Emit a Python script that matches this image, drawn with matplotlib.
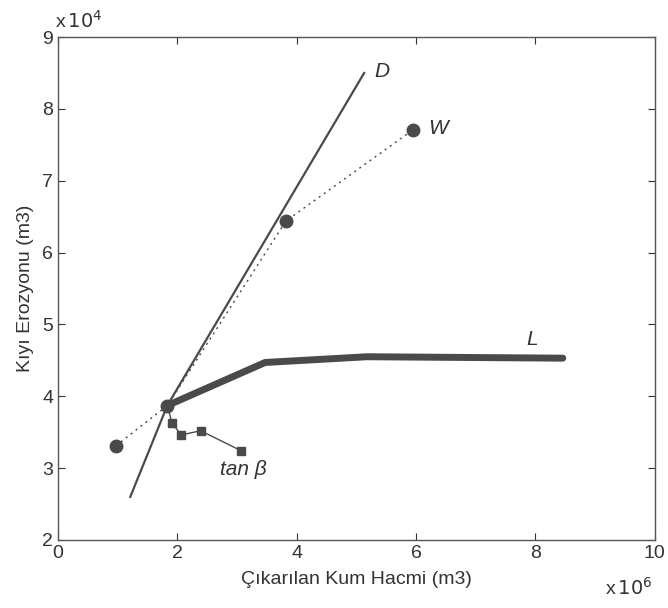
import matplotlib.pyplot as plt

plt.rcParams['font.family'] = ['Liberation Sans', 'DejaVu Sans']

# Veriler (x: 1e6 m3, y: 1e4 m3)
d_x = [1.21, 1.83, 5.13]
d_y = [2.60, 3.87, 8.50]

w_x = [0.97, 1.83, 3.82, 5.95]
w_y = [3.31, 3.87, 6.44, 7.71]

l_x = [1.83, 3.47, 5.18, 8.46]
l_y = [3.87, 4.47, 4.55, 4.53]

tan_x = [1.83, 1.91, 2.06, 2.39, 3.07]
tan_y = [3.87, 3.63, 3.46, 3.52, 3.24]

renk = '#4a4a4a'

fig = plt.figure(figsize=(6.68, 6.08), dpi=100)
ax = fig.add_axes([0.087, 0.112, 0.893, 0.827])

ax.plot(d_x, d_y, color=renk, lw=1.6)
ax.plot(w_x, w_y, color=renk, lw=1.0, ls=(0, (1.5, 3)))
ax.plot(w_x, w_y, 'o', color=renk, ms=9, ls='none')
ax.plot(l_x, l_y, color=renk, lw=5, solid_capstyle='round')
ax.plot(tan_x[1:], tan_y[1:], 's', color=renk, ms=6, ls='none')
ax.plot(tan_x, tan_y, color=renk, lw=1.0)

ax.text(5.3, 8.45, 'D', fontsize=15, style='italic', color='#333333')
ax.text(6.2, 7.65, 'W', fontsize=15, style='italic', color='#333333')
ax.text(7.85, 4.72, 'L', fontsize=15, style='italic', color='#333333')
ax.text(2.72, 2.9, 'tan β', fontsize=15, style='italic', color='#333333')

ax.set_xlim(0, 10)
ax.set_ylim(2, 9)
ax.set_xticks([0, 2, 4, 6, 8, 10])
ax.set_yticks([2, 3, 4, 5, 6, 7, 8, 9])
ax.tick_params(direction='in', top=True, right=True, labelsize=14, colors='#333333', length=5)
for s in ax.spines.values():
    s.set_color('#555555')
    s.set_linewidth(1.0)

ax.set_xlabel('Çıkarılan Kum Hacmi (m3)', fontsize=14, color='#333333', labelpad=7)
ax.set_ylabel('Kıyı Erozyonu (m3)', fontsize=14, color='#333333', labelpad=6)

fig.text(0.083, 0.955, r'x$\,10^4$', fontsize=14, color='#333333')
fig.text(0.905, 0.022, r'x$\,10^6$', fontsize=14, color='#333333')

plt.savefig('out.png', dpi=100)
